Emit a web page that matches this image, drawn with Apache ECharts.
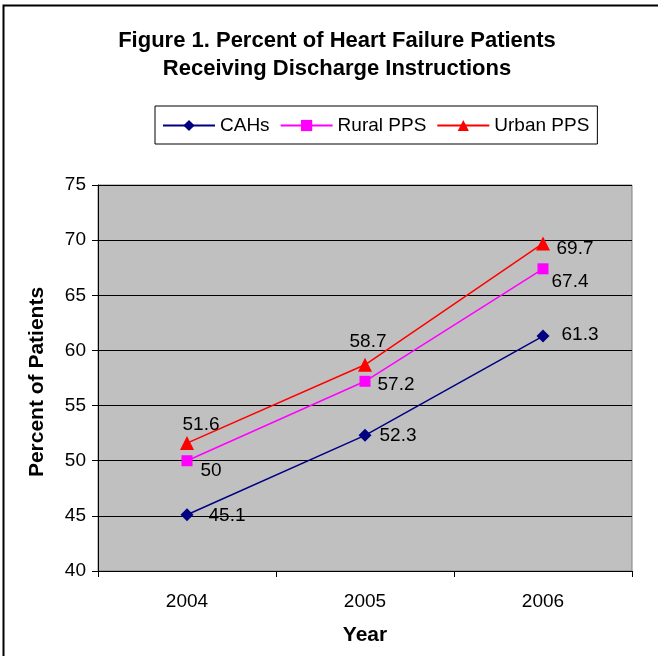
<!DOCTYPE html>
<html>
<head>
<meta charset="utf-8">
<script src="https://cdn.jsdelivr.net/npm/echarts@6/dist/echarts.min.js"></script>
<style>
  html, body { margin: 0; padding: 0; background: #fff; }
  #chart { width: 658px; height: 656px; }
</style>
</head>
<body>
<div id="chart"></div>
<script>
var years = ['2004', '2005', '2006'];
var cahs = [45.1, 52.3, 61.3];
var ruralPPS = [50, 57.2, 67.4];
var urbanPPS = [51.6, 58.7, 69.7];

// label nudges (px from marker centre), per point
var cahsOffsets = [[40, 1], [33, 0], [37, -1]];
var ruralOffsets = [[24, 10], [31, 3], [27, 13]];
var urbanOffsets = [[14, -18], [3, -23], [32, 5]];

var fontName = '"Liberation Sans", Arial, sans-serif';

function withLabels(values, offsets) {
  return values.map(function(v, i) {
    return {
      value: v,
      label: { offset: offsets[i] }
    };
  });
}

function makeSeries(name, values, offsets, color, symbol, size) {
  return {
    name: name,
    type: 'line',
    data: withLabels(values, offsets),
    symbol: symbol,
    symbolSize: size,
    showAllSymbol: true,
    lineStyle: { color: color, width: 1.5 },
    itemStyle: { color: color },
    label: {
      show: true,
      position: 'inside',
      color: '#000',
      fontSize: 19,
      fontFamily: fontName,
      textBorderWidth: 0
    },
    emphasis: { disabled: true },
    z: 3
  };
}

var chart = echarts.init(document.getElementById('chart'));

var option = {
  animation: false,
  backgroundColor: '#fff',
  textStyle: { fontFamily: fontName },
  title: {
    text: 'Figure 1. Percent of Heart Failure Patients\nReceiving Discharge Instructions',
    left: 332,
    textAlign: 'center',
    top: 22,
    textStyle: {
      fontSize: 22,
      fontWeight: 'bold',
      color: '#000',
      lineHeight: 28,
      fontFamily: fontName
    }
  },
  legend: {
    data: ['CAHs', 'Rural PPS', 'Urban PPS'],
    left: 155,
    top: 106,
    width: 500,
    borderColor: '#000',
    borderWidth: 1,
    padding: [10, 8, 9, 7],
    itemWidth: 52,
    itemHeight: 14,
    itemGap: 10,
    textStyle: { fontSize: 19, color: '#000', fontFamily: fontName }
  },
  graphic: [{
    type: 'polyline',
    shape: { points: [[3.5, 700], [3.5, 5.5], [700, 5.5]] },
    style: { stroke: '#000', lineWidth: 2, fill: null },
    silent: true
  }],
  grid: {
    left: 98,
    right: 26,
    top: 185,
    bottom: 85,
    show: true,
    backgroundColor: '#C0C0C0',
    borderColor: '#808080',
    borderWidth: 1
  },
  xAxis: {
    type: 'category',
    data: years,
    boundaryGap: true,
    name: 'Year',
    nameLocation: 'middle',
    nameGap: 54,
    nameTextStyle: { fontSize: 21, fontWeight: 'bold', color: '#000', fontFamily: fontName },
    axisLine: { show: true, lineStyle: { color: '#000', width: 1 } },
    axisTick: { show: true, length: 6, inside: false, lineStyle: { color: '#000' } },
    axisLabel: { fontSize: 19, color: '#000', margin: 21, fontFamily: fontName },
    splitLine: { show: false }
  },
  yAxis: {
    type: 'value',
    min: 40,
    max: 75,
    interval: 5,
    name: 'Percent of Patients',
    nameLocation: 'middle',
    nameGap: 50,
    nameRotate: 90,
    nameTextStyle: { fontSize: 21, fontWeight: 'bold', color: '#000', fontFamily: fontName, padding: [0, 8, 0, 0] },
    axisLine: { show: true, lineStyle: { color: '#000', width: 1 } },
    axisTick: { show: true, length: 6, inside: false, lineStyle: { color: '#000' } },
    axisLabel: { fontSize: 19, color: '#000', margin: 12, fontFamily: fontName },
    splitLine: { show: true, lineStyle: { color: '#000', width: 1 } }
  },
  series: [
    makeSeries('CAHs', cahs, cahsOffsets, '#000080', 'diamond', 13),
    makeSeries('Rural PPS', ruralPPS, ruralOffsets, '#FF00FF', 'rect', 11),
    makeSeries('Urban PPS', urbanPPS, urbanOffsets, '#FF0000', 'triangle', 14)
  ]
};

chart.setOption(option);
</script>
</body>
</html>
